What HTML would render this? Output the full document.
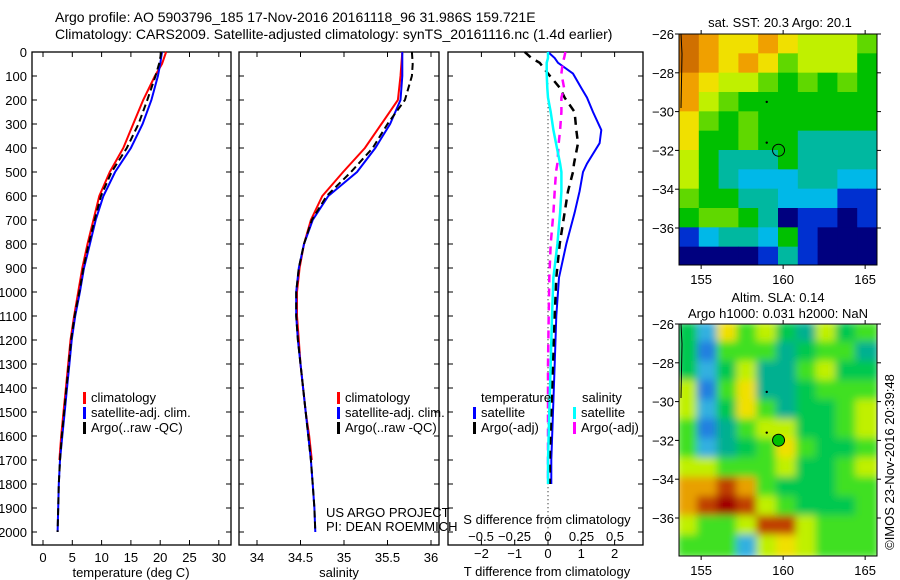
<!DOCTYPE html>
<html><head><meta charset="utf-8"><style>
html,body{margin:0;padding:0;background:#fff;}
svg{display:block;font-family:"Liberation Sans",sans-serif;}
text{fill:#000;}
</style></head><body>
<svg id="c" width="900" height="580" viewBox="0 0 900 580" xmlns="http://www.w3.org/2000/svg">
<defs>
<filter id="blur" x="-5%" y="-5%" width="110%" height="110%"><feGaussianBlur stdDeviation="4"/></filter>
<clipPath id="clip1"><rect x="679" y="34" width="198" height="231"/></clipPath>
<clipPath id="clip2"><rect x="679" y="324" width="198" height="232"/></clipPath>
</defs>
<text x="55" y="22" font-size="14">Argo profile: AO 5903796_185 17-Nov-2016 20161118_96 31.986S 159.721E</text>
<text x="55" y="39" font-size="14">Climatology: CARS2009. Satellite-adjusted climatology: synTS_20161116.nc (1.4d earlier)</text>
<g id="g"></g>
</svg>
<script>
// ---- data ----
const depthT = [0,50,100,200,300,400,500,600,700,800,900,1000,1100,1200,1300,1400,1500,1600,1700,1800,1900,2000];
const tempClim = [21,20.3,19.1,17.1,15.4,13.7,11.4,9.6,8.6,7.6,6.7,6.0,5.3,4.7,4.3,3.9,3.5,3.1,2.8,null,null,null];
const tempSat = [20.3,20.0,19.6,18.5,17.0,15.0,12.3,10.3,9.0,8.0,7.0,6.3,5.5,4.9,4.5,4.1,3.7,3.3,2.9,2.7,2.6,2.5];
const tempArgo = [20.2,19.8,19.2,17.8,16.3,14.3,11.7,9.9,8.8,7.8,6.9,6.2,5.4,4.8,4.4,4.0,3.6,3.2,2.9,2.7,2.6,2.5];
const salClim = [35.67,35.66,35.65,35.62,35.43,35.24,34.99,34.75,34.62,34.54,34.49,34.46,34.46,34.48,34.50,34.53,34.56,34.60,34.63,null,null,null];
const salSat = [35.67,35.67,35.67,35.65,35.53,35.36,35.15,34.82,34.64,34.54,34.48,34.45,34.45,34.47,34.50,34.53,34.56,34.59,34.62,34.64,34.66,34.67];
const salArgo = [35.78,35.79,35.78,35.70,35.50,35.33,35.08,34.80,34.63,34.54,34.48,34.45,34.45,34.47,34.50,34.53,34.56,34.59,34.62,34.64,34.66,34.67];
const depthD = [0,25,45,90,150,190,250,325,380,465,500,580,670,800,940,1100,1300,1500,1700,1800];
const dTsat = [0.0,0.2,0.3,0.75,1.0,1.17,1.35,1.6,1.55,1.17,1.05,0.95,0.8,0.55,0.33,0.25,0.2,0.15,0.1,0.1];
const dTargo = [-0.7,-0.5,-0.25,0.0,0.36,0.5,0.8,0.85,0.9,0.78,0.75,0.6,0.5,0.35,0.25,0.2,0.15,0.1,0.05,0.05];
const dSsat = [0.0,0.0,-0.01,-0.01,-0.005,0.0,0.02,0.04,0.06,0.09,0.1,0.1,0.09,0.07,0.04,0.03,0.02,0.01,0.0,0.0];
const dSargo = [0.13,0.12,0.11,0.1,0.12,0.1,0.1,0.09,0.08,0.07,0.06,0.05,0.04,0.02,0.01,0.005,0.0,0.0,0.0,0.0];
const tTicks = [0,5,10,15,20,25,30];
const sTicks = [34,34.5,35,35.5,36];
const depthTicks = [0,100,200,300,400,500,600,700,800,900,1000,1100,1200,1300,1400,1500,1600,1700,1800,1900,2000];
const dTticks = [-2,-1,0,1,2];
const dSticks = [-0.5,-0.25,0,0.25,0.5];
const sstGrid = [
[9,8,7,7,8,7,6,6,6,5],[9,8,7,8,7,5,6,6,6,4],[8,7,6,6,5,4,5,4,5,4],[8,6,5,4,4,4,4,4,4,4],
[7,5,4,5,4,4,4,4,4,4],[7,4,4,5,4,4,3,3,3,3],[6,4,3,3,3,4,3,3,3,3],[6,4,3,2,2,2,3,3,2,2],
[5,4,4,3,3,2,2,2,1,1],[4,5,5,4,3,0,1,1,0,1],[1,2,3,3,2,4,1,0,0,0],[0,0,0,0,1,3,1,0,0,0]];
const slaGrid = [
[3,1,6,4,5,3,2,5,3,4],[3,0,4,4,4,2,3,4,4,2],[3,1,3,5,2,2,4,5,3,3],[5,0,4,6,2,2,3,4,4,4],
[5,1,3,6,4,2,3,3,4,5],[4,0,2,4,5,5,3,3,4,5],[4,1,2,3,4,6,4,3,3,4],[5,5,4,4,4,5,3,3,4,5],
[7,7,8,7,4,3,3,3,4,4],[7,8,9,8,5,4,3,3,3,4],[5,4,4,5,8,8,5,4,4,4],[4,4,4,1,5,6,5,4,4,4]];
const lonTicks = [155,160,165];
const latTicks = [-26,-28,-30,-32,-34,-36];

// ---- helpers ----
const NS="http://www.w3.org/2000/svg", G=document.getElementById('g');
function el(tag,attrs,parent){const e=document.createElementNS(NS,tag);for(const k in attrs)e.setAttribute(k,attrs[k]);(parent||G).appendChild(e);return e;}
function txt(x,y,s,size,anchor){const t=el('text',{x:x,y:y,'font-size':size||13,'text-anchor':anchor||'start'});t.textContent=s;return t;}
const TOP=52, BOT=545;
const yD = d => 52 + d*0.24;
const xT = v => 43 + v*5.86;
const xS = v => 257 + (v-34)*87;
const xDT = v => 548 + v*33.3;
const xDS = v => 548 + v*134;
function line(xs,ys,xf,color,w,dash,name){
  let p='';
  for(let i=0;i<xs.length;i++){ if(xs[i]==null) continue; p+=(p?'L':'M')+xf(xs[i]).toFixed(1)+','+yD(ys[i]).toFixed(1); }
  const e=el('path',{d:p,fill:'none',stroke:color,'stroke-width':w,'stroke-dasharray':dash||'none'});
  
  
  return e;
}
function frame(x0,x1,name){
  const r=el('rect',{x:x0,y:TOP,width:x1-x0,height:BOT-TOP,fill:'none',stroke:'#000','stroke-width':1.3});
  
  
}
function legend(x,y,color,label,name){
  const r=el('rect',{x:x,y:y-10,width:3,height:12,fill:color});
  
  
  const t=txt(x+8,y,label,13);
  
  
}

// ---- panel 1 ----
frame(32,231,'temperature-panel');
depthTicks.forEach(d=>{
  el('line',{x1:32,y1:yD(d),x2:37,y2:yD(d),stroke:'#000'});
  el('line',{x1:231,y1:yD(d),x2:226,y2:yD(d),stroke:'#000'});
  const t=txt(27,yD(d)+5,String(d),13,'end');
  
  
});
tTicks.forEach(v=>{
  el('line',{x1:xT(v),y1:BOT,x2:xT(v),y2:BOT-5,stroke:'#000'});
  el('line',{x1:xT(v),y1:TOP,x2:xT(v),y2:TOP+5,stroke:'#000'});
  const t=txt(xT(v),562,String(v),13,'middle');
  
  
});
const tl=txt(131,577,'temperature (deg C)',13,'middle');


line(tempClim,depthT,xT,'#f00',2,null,'temp-climatology-line');
line(tempSat,depthT,xT,'#00f',2,null,'temp-satellite-line');
line(tempArgo,depthT,xT,'#000',2,'7,4','temp-argo-line');
legend(83,402,'#f00','climatology','temp-legend-climatology');
legend(83,417,'#00f','satellite-adj. clim.','temp-legend-satellite');
legend(83,432,'#000','Argo(..raw -QC)','temp-legend-argo');

// ---- panel 2 ----
frame(239,439,'salinity-panel');
depthTicks.forEach(d=>{
  el('line',{x1:239,y1:yD(d),x2:244,y2:yD(d),stroke:'#000'});
  el('line',{x1:439,y1:yD(d),x2:434,y2:yD(d),stroke:'#000'});
});
sTicks.forEach(v=>{
  el('line',{x1:xS(v),y1:BOT,x2:xS(v),y2:BOT-5,stroke:'#000'});
  el('line',{x1:xS(v),y1:TOP,x2:xS(v),y2:TOP+5,stroke:'#000'});
  const t=txt(xS(v),562,String(v),13,'middle');
  
  
});
const sl=txt(339,577,'salinity',13,'middle');


line(salClim,depthT,xS,'#f00',2,null,'sal-climatology-line');
line(salSat,depthT,xS,'#00f',2,null,'sal-satellite-line');
line(salArgo,depthT,xS,'#000',2,'7,4','sal-argo-line');
legend(337,402,'#f00','climatology','sal-legend-climatology');
legend(337,417,'#00f','satellite-adj. clim.','sal-legend-satellite');
legend(337,432,'#000','Argo(..raw -QC)','sal-legend-argo');
const c1=txt(326,517,'US ARGO PROJECT',13);


const c2=txt(326,531,'PI: DEAN ROEMMICH',13);



// ---- panel 3 ----
frame(448,643,'difference-panel');
depthTicks.forEach(d=>{
  el('line',{x1:448,y1:yD(d),x2:453,y2:yD(d),stroke:'#000'});
  el('line',{x1:643,y1:yD(d),x2:638,y2:yD(d),stroke:'#000'});
});
dTticks.forEach(v=>{
  el('line',{x1:xDT(v),y1:BOT,x2:xDT(v),y2:BOT-5,stroke:'#000'});
  el('line',{x1:xDT(v),y1:TOP,x2:xDT(v),y2:TOP+5,stroke:'#000'});
  const t=txt(xDT(v),558,String(v).replace('-','\u2212'),13,'middle');
  
  
});
dSticks.forEach(v=>{
  const t=txt(xDS(v),541,String(v).replace(/^-/,'\u2212'),13,'middle');
  
  
});
const sdl=txt(547,524,'S difference from climatology',13,'middle');


const tdl=txt(547,576,'T difference from climatology',13,'middle');


const zl=el('line',{x1:548,y1:yD(130),x2:548,y2:BOT,stroke:'#000','stroke-dasharray':'1,3'});


line(dTsat,depthD,xDT,'#00f',2,null,'t-diff-satellite-line');
line(dTargo,depthD,xDT,'#000',2.5,'8,6','t-diff-argo-line');
line(dSargo,depthD,xDS,'#f0f',2.5,'8,6','s-diff-argo-line');
line(dSsat,depthD,xDS,'#0ff',2.5,null,'s-diff-satellite-line');
const lt=txt(481,402,'temperature',13);  
const ls=txt(582,402,'salinity',13);  
legend(473,417,'#00f','satellite','diff-legend-t-satellite');
legend(473,432,'#000','Argo(-adj)','diff-legend-t-argo');
legend(573,417,'#0ff','satellite','diff-legend-s-satellite');
legend(573,432,'#f0f','Argo(-adj)','diff-legend-s-argo');

// ---- maps ----
const sstCol=['#00007f','#0030d0','#00b8e8','#00b8a0','#00c000','#60d800','#c0f000','#f0e000','#f0a000','#d07000'];
const slaCol=['#2080e0','#30b0e0','#00b090','#00c850','#40e020','#c0f000','#f0e000','#e8a000','#c04000','#a00000'];
const lonX = lon => 679 + (lon-153.65)*16.4;
function map(grid,cols,y0,clip,blur,name){
  const grp=el('g',{'clip-path':'url(#'+clip+')'});
  
  
  const inner=el('g',blur?{filter:'url(#blur)'}:{},grp);
  const cw=198/10, ch=232/12;
  el('rect',{x:679,y:y0,width:198,height:232,fill:cols[4]},inner);
  grid.forEach((row,r)=>row.forEach((v,c)=>{
    el('rect',{x:679+c*cw-(blur?2:0),y:y0+r*ch-(blur?2:0),width:cw+(blur?4:0.5),height:ch+(blur?4:0.5),fill:cols[v]},inner);
  }));
  const latY = lat => y0 + (-26-lat)*19.4;
  el('path',{d:'M681,'+y0+' L682,'+(y0+20)+' L681,'+(y0+74),stroke:'#000',fill:'none','stroke-width':1},grp);
  el('rect',{x:679,y:y0,width:198,height:y0===34?231:232,fill:'none',stroke:'#000','stroke-width':1});
  latTicks.forEach(l=>{
    el('line',{x1:679,y1:latY(l),x2:675,y2:latY(l),stroke:'#000'});
    el('line',{x1:877,y1:latY(l),x2:881,y2:latY(l),stroke:'#000'});
    const t=txt(674,latY(l)+5,String(l).replace('-','\u2212'),13,'end');
    
    
  });
  const yb=y0+(y0===34?231:232);
  lonTicks.forEach(l=>{
    el('line',{x1:lonX(l),y1:yb,x2:lonX(l),y2:yb+4,stroke:'#000'});
    el('line',{x1:lonX(l),y1:y0,x2:lonX(l),y2:y0-4,stroke:'#000'});
    const t=txt(lonX(l),yb+19,String(l),13,'middle');
    
    
  });
  const pc=el('circle',{cx:lonX(159.72),cy:latY(-31.99),r:6,fill:blur?'#00c000':'none',stroke:'#000','stroke-width':1});
  
  
  el('circle',{cx:lonX(159),cy:latY(-29.5),r:1.2,fill:'#000'});
  el('circle',{cx:lonX(159),cy:latY(-31.6),r:1.2,fill:'#000'});
}
map(sstGrid,sstCol,34,'clip1',false,'sst-map');
map(slaGrid,slaCol,324,'clip2',true,'sla-map');
const m1=txt(780,27,'sat. SST: 20.3 Argo: 20.1',13,'middle');  
const m2=txt(778,302,'Altim. SLA: 0.14',13,'middle');  
const m3=txt(778,318,'Argo h1000: 0.031 h2000: NaN',13,'middle');  
const cp=txt(0,0,'\u00a9IMOS 23-Nov-2016 20:39:48',13,'middle');
cp.setAttribute('transform','translate(894,462) rotate(-90)');


</script>
</body></html>
